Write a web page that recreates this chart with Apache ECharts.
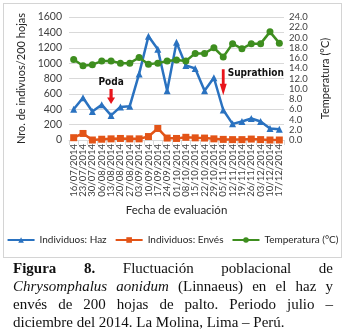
<!DOCTYPE html>
<html>
<head>
<meta charset="utf-8">
<script src="https://cdn.jsdelivr.net/npm/echarts@6/dist/echarts.min.js"></script>
<style>
  html, body { margin: 0; padding: 0; background: #fff; }
  body { width: 345px; height: 333px; position: relative; overflow: hidden; }
  #frame { position: absolute; left: 3px; top: 3px; width: 337px; height: 253px; border: 1px solid #d4d4d4; }
  #chart { position: absolute; left: 0; top: 0; width: 345px; height: 260px; }
  #caption {
    position: absolute; left: 13px; top: 259px; width: 320px;
    font-family: "Liberation Serif", "Times New Roman", serif;
    font-size: 15px; line-height: 18px; color: #111; text-align: justify;
  }
</style>
</head>
<body>
<div id="frame"></div>
<div id="chart"></div>
<div id="caption"><b>Figura 8.</b> Fluctuación poblacional de <i>Chrysomphalus aonidum</i> (Linnaeus) en el haz y envés de 200 hojas de palto. Periodo julio – diciembre del 2014. La Molina, Lima – Perú.</div>
<script>
// weekly evaluation dates
const fechas = [
  "16/07/2014", "23/07/2014", "30/07/2014", "06/08/2014", "13/08/2014", "20/08/2014",
  "27/08/2014", "03/09/2014", "10/09/2014", "17/09/2014", "24/09/2014", "01/10/2014",
  "08/10/2014", "15/10/2014", "22/10/2014", "29/10/2014", "05/11/2014", "12/11/2014",
  "19/11/2014", "26/11/2014", "03/12/2014", "10/12/2014", "17/12/2014",
];
// individuals per 200 leaves
const haz = [400, 550, 370, 460, 320, 430, 440, 860, 1350, 1180, 640, 1270,
  970, 930, 640, 810, 390, 210, 240, 280, 240, 150, 140];
const enves = [30, 85, 0, 10, 15, 20, 15, 15, 45, 150, 25, 20,
  35, 28, 25, 15, 8, 5, 5, 12, 5, 0, 0];
const temperatura = [15.7, 14.5, 14.7, 15.4, 15.4, 15.0, 15.0, 16.1, 14.8, 15.0, 15.4, 15.6,
  15.4, 16.9, 16.9, 18.0, 16.2, 18.8, 17.8, 18.8, 18.8, 21.1, 18.9];
// field treatments marked with red arrows
const eventos = [
  { fecha: "13/08/2014", texto: "Poda", flecha: 565, etiqueta: 745 },
  { fecha: "05/11/2014", texto: "Suprathion", flecha: 752, etiqueta: 872 },
];

const FONT = "Lato, 'Open Sans', sans-serif";
const NARROW = "'Liberation Sans Narrow', 'DejaVu Sans Condensed', sans-serif";
const AXIS_TXT = "#404040";
const ARROW = "path://M3,0 L7,0 L7,9 L10,9 L5,16 L0,9 L3,9 Z";

const marks = [];
eventos.forEach((e, i) => {
  marks.push({
    coord: [e.fecha, e.flecha], symbol: ARROW,
    symbolSize: i === 0 ? [8, 15] : [7, 26], label: { show: false },
  });
  marks.push({
    coord: [e.fecha, e.etiqueta], symbol: "rect", symbolSize: 1,
    itemStyle: { color: "rgba(0,0,0,0)" },
    label: {
      show: true, formatter: e.texto, color: "#111", fontFamily: NARROW,
      fontWeight: "bold", fontSize: 10,
      position: i === 0 ? "inside" : "right", distance: 4,
    },
  });
});

const line = (name, data, color, symbol, yAxisIndex, extra) => Object.assign({
  name, type: "line", data, yAxisIndex, symbol, symbolSize: 7,
  color, lineStyle: { width: 2.5, color }, itemStyle: { color },
  animation: false,
}, extra || {});

const chart = echarts.init(document.getElementById("chart"), null, { renderer: "canvas" });
chart.setOption({
  animation: false,
  grid: { left: 69, top: 17, width: 215, height: 123 },
  legend: {
    bottom: 10, left: "center", itemWidth: 27, itemHeight: 7, itemGap: 8,
    textStyle: { fontFamily: FONT, fontSize: 10, color: "#262626" },
    data: ["Individuos: Haz", "Individuos: Envés", "Temperatura (°C)"],
  },
  xAxis: {
    type: "category", data: fechas, boundaryGap: true,
    name: "Fecha de evaluación", nameLocation: "middle", nameGap: 64,
    nameTextStyle: { fontFamily: FONT, fontSize: 11.5, color: "#262626" },
    axisLine: { lineStyle: { color: "#d9d9d9" } },
    axisTick: { show: true, alignWithLabel: false, lineStyle: { color: "#d9d9d9" } },
    axisLabel: { interval: 0, rotate: 90, fontFamily: FONT, fontSize: 9.5, color: AXIS_TXT, margin: 4 },
  },
  yAxis: [
    {
      type: "value", min: 0, max: 1600, interval: 200,
      name: "Nro. de indivuos/200 hojas", nameLocation: "middle", nameGap: 42, nameRotate: 90,
      nameTextStyle: { fontFamily: FONT, fontSize: 11, color: "#262626" },
      axisLabel: { fontFamily: FONT, fontSize: 10.5, color: AXIS_TXT, margin: 7, formatter: (v) => String(v) },
      axisLine: { show: false }, axisTick: { show: false },
      splitLine: { lineStyle: { color: "#d9d9d9" } },
    },
    {
      type: "value", min: 0, max: 24, interval: 2, position: "right",
      name: "Temperatura (°C)", nameLocation: "middle", nameGap: 36, nameRotate: 90,
      nameTextStyle: { fontFamily: FONT, fontSize: 11, color: "#262626" },
      axisLabel: { fontFamily: FONT, fontSize: 9.5, color: AXIS_TXT, margin: 5, formatter: (v) => v.toFixed(1) },
      axisLine: { show: false }, axisTick: { show: false }, splitLine: { show: false },
    },
  ],
  series: [
    line("Individuos: Haz", haz, "#2a72c0", "triangle", 0, {
      markPoint: { data: marks, itemStyle: { color: "#e8141b" }, animation: false },
    }),
    line("Individuos: Envés", enves, "#e35417", "rect", 0),
    line("Temperatura (°C)", temperatura, "#3e8e1f", "circle", 1),
  ],
});
</script>
</body>
</html>
